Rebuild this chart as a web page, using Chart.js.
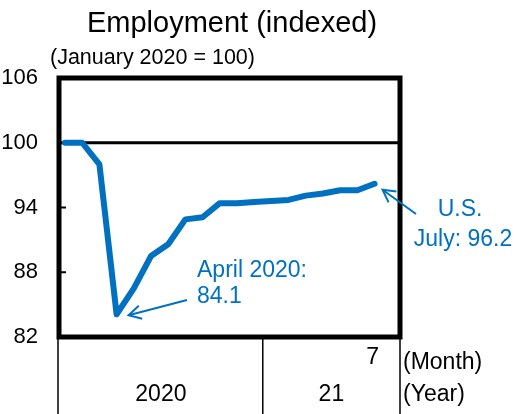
<!DOCTYPE html>
<html>
<head>
<meta charset="utf-8">
<script src="https://cdn.jsdelivr.net/npm/chart.js@4/dist/chart.umd.min.js"></script>
<style>
  html, body { margin: 0; padding: 0; background: #fff; }
  #wrap { width: 517px; height: 414px; }
</style>
</head>
<body>
<div id="wrap"><canvas id="c" width="517" height="414"></canvas></div>
<script>
// Months Jan 2020 .. Jul 2021
const months = ['1','2','3','4','5','6','7','8','9','10','11','12','1','2','3','4','5','6','7'];
const employment = [100, 100, 98.0, 84.1, 86.5, 89.5, 90.6, 92.9, 93.1, 94.4, 94.4, 94.5, 94.6, 94.7, 95.1, 95.3, 95.6, 95.6, 96.2];
const yTicks = [82, 88, 94, 100, 106];
const yearLabels = ['2020', '21'];
const shownMonthLabel = '7';

const BLUE = '#0070C0';
const FONT = '"Liberation Sans", Arial, sans-serif';

const points = employment.map((v, i) => ({ x: i, y: v }));

const overlay = {
  id: 'overlay',
  beforeDatasetsDraw(chart) {
    const { ctx, chartArea: a, scales: { y } } = chart;
    ctx.save();
    ctx.strokeStyle = '#000';
    ctx.lineWidth = 3;
    const y100 = y.getPixelForValue(100);
    ctx.beginPath();
    ctx.moveTo(a.left, y100);
    ctx.lineTo(a.right, y100);
    ctx.stroke();
    ctx.restore();
  },
  afterDraw(chart) {
    const { ctx, chartArea: a, scales: { x, y } } = chart;
    ctx.save();
    ctx.strokeStyle = '#000';
    ctx.lineWidth = 2;
    [88, 94].forEach(v => {
      const py = y.getPixelForValue(v);
      ctx.beginPath();
      ctx.moveTo(a.left, py);
      ctx.lineTo(a.left + 7, py);
      ctx.stroke();
    });
    ctx.lineWidth = 5;
    ctx.strokeRect(a.left, a.top, a.right - a.left, a.bottom - a.top);

    const divX = x.getPixelForValue(11.5);
    ctx.lineWidth = 1.5;
    [a.left - 1, divX, a.right].forEach(px => {
      ctx.beginPath();
      ctx.moveTo(px, a.bottom);
      ctx.lineTo(px, 414);
      ctx.stroke();
    });

    ctx.fillStyle = '#000';
    ctx.font = '23px ' + FONT;
    ctx.textBaseline = 'middle';
    ctx.textAlign = 'center';
    ctx.fillText(shownMonthLabel, x.getPixelForValue(months.length - 1) - 2, 358);
    ctx.fillText(yearLabels[0], (a.left + divX) / 2, 395);
    ctx.fillText(yearLabels[1], (divX + a.right) / 2, 395);
    ctx.textAlign = 'left';
    ctx.fillText('(Month)', a.right + 3, 363);
    ctx.fillText('(Year)', a.right + 3, 395);

    ctx.textBaseline = 'alphabetic';
    ctx.textAlign = 'center';
    ctx.font = '29px ' + FONT;
    ctx.fillText('Employment (indexed)', 232, 32);
    ctx.textAlign = 'left';
    ctx.font = '21.5px ' + FONT;
    ctx.fillText('(January 2020 = 100)', 50, 64);

    ctx.fillStyle = BLUE;
    ctx.strokeStyle = BLUE;
    ctx.font = '23px ' + FONT;
    ctx.textAlign = 'left';
    ctx.fillText('April 2020:', 197, 277);
    ctx.fillText('84.1', 197, 303);
    ctx.textAlign = 'center';
    ctx.fillText('U.S.', 460, 216);
    ctx.fillText('July: 96.2', 463, 246);

    function arrow(x0, y0, x1, y1) {
      ctx.lineWidth = 2;
      ctx.beginPath();
      ctx.moveTo(x0, y0);
      ctx.lineTo(x1, y1);
      ctx.stroke();
      const ang = Math.atan2(y1 - y0, x1 - x0);
      const L = 14, sp = 0.5;
      ctx.beginPath();
      ctx.moveTo(x1 - L * Math.cos(ang - sp), y1 - L * Math.sin(ang - sp));
      ctx.lineTo(x1, y1);
      ctx.lineTo(x1 - L * Math.cos(ang + sp), y1 - L * Math.sin(ang + sp));
      ctx.stroke();
    }
    const pMin = { x: x.getPixelForValue(3), y: y.getPixelForValue(employment[3]) };
    arrow(187, 300, pMin.x + 12, pMin.y + 1);
    const last = employment.length - 1;
    const pLast = { x: x.getPixelForValue(last), y: y.getPixelForValue(employment[last]) };
    arrow(416, 214, pLast.x + 8, pLast.y + 6);
    ctx.restore();
  }
};

new Chart(document.getElementById('c'), {
  type: 'line',
  data: {
    datasets: [{
      label: 'U.S.',
      data: points,
      borderColor: BLUE,
      borderWidth: 6,
      borderCapStyle: 'round',
      pointRadius: 0,
      tension: 0,
      fill: false,
      borderJoinStyle: 'round'
    }]
  },
  options: {
    responsive: false,
    animation: false,
    devicePixelRatio: 1,
    layout: { padding: { left: 0, top: 78, right: 117, bottom: 77 } },
    plugins: { legend: { display: false }, tooltip: { enabled: false }, title: { display: false } },
    scales: {
      x: {
        type: 'linear',
        display: false,
        min: -0.35,
        max: 19.48
      },
      y: {
        min: 82,
        max: 106,
        afterFit(scale) { scale.width = 59; },
        afterBuildTicks(scale) { scale.ticks = yTicks.map(v => ({ value: v })); },
        grid: { display: false, drawTicks: false },
        border: { display: false },
        ticks: {
          padding: 21,
          color: '#000',
          font: { size: 22, family: FONT },
          callback: v => String(v)
        }
      }
    }
  },
  plugins: [overlay]
});
</script>
</body>
</html>
